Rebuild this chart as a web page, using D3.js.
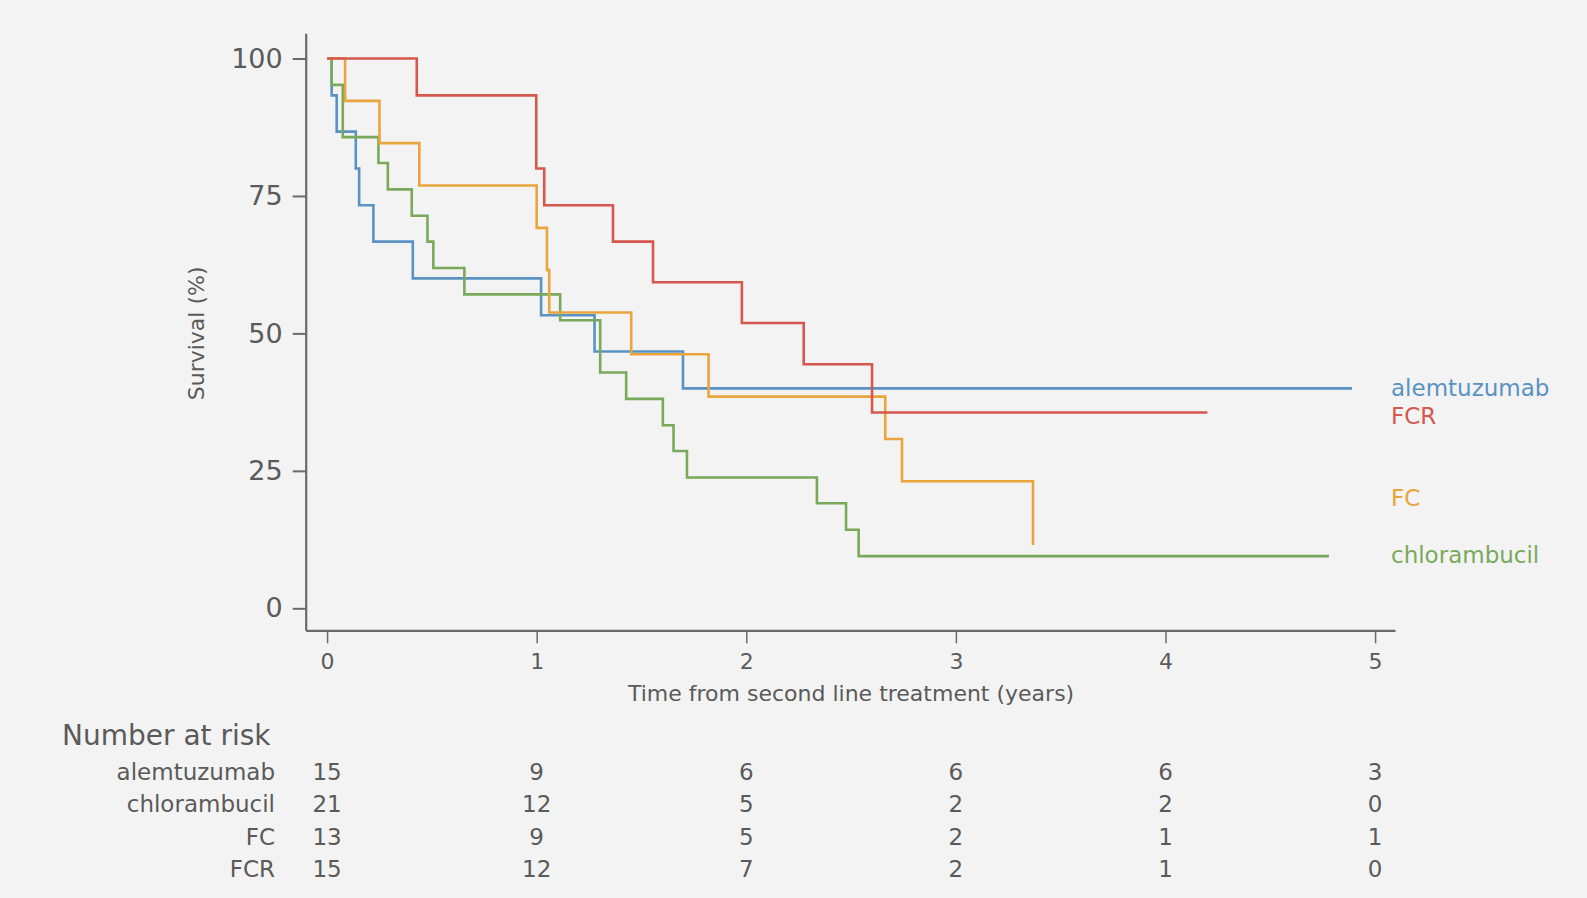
<!DOCTYPE html>
<html>
<head>
<meta charset="utf-8">
<script src="https://cdn.jsdelivr.net/npm/d3@7"></script>
<style>
  html, body { margin: 0; padding: 0; background: #f3f3f3; }
  svg { display: block; font-family: 'DejaVu Sans', sans-serif; }
</style>
</head>
<body>
<svg id="chart" width="1587" height="898"></svg>
<script>
// groups, in risk-table order
const groups = ['alemtuzumab', 'chlorambucil', 'FC', 'FCR'];
const groupColors = ['#5a92c3', '#79a95a', '#e9a43c', '#d5574d'];

// Kaplan-Meier steps (years, % surviving)
const alemTime = [0, 0.022, 0.046, 0.137, 0.153, 0.221, 0.409, 1.021, 1.276, 1.698, 4.89];
const alemSurv = [100, 93.3, 86.7, 80, 73.3, 66.7, 60, 53.3, 46.7, 40, 40];

const chlorTime = [0, 0.022, 0.075, 0.245, 0.29, 0.404, 0.479, 0.507, 0.655, 1.112, 1.303, 1.427, 1.602, 1.653, 1.717, 2.337, 2.476, 2.536, 4.78];
const chlorSurv = [100, 95.2, 85.7, 81.0, 76.2, 71.4, 66.7, 61.9, 57.1, 52.4, 42.9, 38.1, 33.3, 28.6, 23.8, 19.1, 14.3, 9.5, 9.5];

const fcTime = [0, 0.086, 0.25, 0.44, 1.0, 1.049, 1.06, 1.451, 1.82, 2.663, 2.743, 3.368];
const fcSurv = [100, 92.3, 84.6, 76.9, 69.2, 61.5, 53.8, 46.2, 38.5, 30.8, 23.1, 11.5];

const fcrTime = [0, 0.428, 0.998, 1.036, 1.364, 1.555, 1.979, 2.274, 2.60, 4.2];
const fcrSurv = [100, 93.3, 80, 73.3, 66.7, 59.3, 51.9, 44.4, 35.6, 35.6];

// where each end label sits (in % units)
const labelAt = [40, 9.7, 20, 35];

// number at risk table
const riskYears = [0, 1, 2, 3, 4, 5];
const riskAlem = [15, 9, 6, 6, 6, 3];
const riskChlor = [21, 12, 5, 2, 2, 0];
const riskFC = [13, 9, 5, 2, 1, 1];
const riskFCR = [15, 12, 7, 2, 1, 0];

const yTicks = [0, 25, 50, 75, 100];
const xTicks = [0, 1, 2, 3, 4, 5];

const series = [
  { times: alemTime, surv: alemSurv },
  { times: chlorTime, surv: chlorSurv },
  { times: fcTime, surv: fcSurv },
  { times: fcrTime, surv: fcrSurv },
];
const risk = [riskAlem, riskChlor, riskFC, riskFCR];

const textColor = '#5a5a5a';
const axisColor = '#6a6a6a';

const svg = d3.select('#chart');

const x = d3.scaleLinear().domain([-0.102, 5.095]).range([305.7, 1395]);
const y = d3.scaleLinear().domain([-4, 104.6]).range([630.3, 33.2]);

// y axis
const yAxis = svg.append('g')
  .attr('transform', `translate(${x.range()[0]},0)`)
  .call(d3.axisLeft(y).tickValues(yTicks).tickSize(13).tickSizeOuter(0).tickPadding(10));
yAxis.select('.domain').attr('stroke', axisColor).attr('stroke-width', 2.2);
yAxis.selectAll('.tick line').attr('stroke', axisColor).attr('stroke-width', 2);
yAxis.selectAll('.tick text')
  .attr('fill', textColor)
  .attr('font-size', 27)
  .attr('font-family', "'DejaVu Sans', sans-serif");

// x axis
const xAxis = svg.append('g')
  .attr('transform', `translate(0,${y.range()[0]})`)
  .call(d3.axisBottom(x).tickValues(xTicks).tickFormat(d3.format('d')).tickSize(13).tickSizeOuter(0).tickPadding(10));
xAxis.select('.domain').attr('stroke', axisColor).attr('stroke-width', 2.2);
xAxis.selectAll('.tick line').attr('stroke', axisColor).attr('stroke-width', 1.5);
xAxis.selectAll('.tick text')
  .attr('fill', textColor)
  .attr('font-size', 22)
  .attr('font-family', "'DejaVu Sans', sans-serif");

// axis titles
svg.append('text')
  .attr('transform', `translate(204,${y(50)}) rotate(-90)`)
  .attr('text-anchor', 'middle')
  .attr('fill', textColor)
  .attr('font-size', 22)
  .text('Survival (%)');

svg.append('text')
  .attr('x', x(2.5))
  .attr('y', 701)
  .attr('text-anchor', 'middle')
  .attr('fill', textColor)
  .attr('font-size', 22)
  .text('Time from second line treatment (years)');

// survival curves
const line = d3.line()
  .x((d) => x(d[0]))
  .y((d) => y(d[1]))
  .curve(d3.curveStepAfter);

svg.append('g')
  .selectAll('path')
  .data(series)
  .enter()
  .append('path')
  .attr('d', (s) => line(s.times.map((t, i) => [t, s.surv[i]])))
  .attr('fill', 'none')
  .attr('stroke', (s, i) => groupColors[i])
  .attr('stroke-width', 2.6);

// end labels
svg.append('g')
  .selectAll('text')
  .data(groups)
  .enter()
  .append('text')
  .attr('x', 1391)
  .attr('y', (g, i) => y(labelAt[i]))
  .attr('dy', '0.35em')
  .attr('fill', (g, i) => groupColors[i])
  .attr('font-size', 23)
  .text((g) => g);

// number at risk
svg.append('text')
  .attr('x', 62)
  .attr('y', 745)
  .attr('fill', textColor)
  .attr('font-size', 28)
  .text('Number at risk');

const rowY = d3.scalePoint().domain(groups).range([780, 877]);

const rows = svg.append('g')
  .selectAll('g')
  .data(groups)
  .enter()
  .append('g')
  .attr('transform', (g) => `translate(0,${rowY(g)})`);

rows.append('text')
  .attr('x', 275)
  .attr('text-anchor', 'end')
  .attr('fill', textColor)
  .attr('font-size', 23)
  .text((g) => g);

rows.selectAll('text.n')
  .data((g, i) => risk[i].map((n, j) => ({ n, t: riskYears[j] })))
  .enter()
  .append('text')
  .attr('class', 'n')
  .attr('x', (d) => x(d.t))
  .attr('text-anchor', 'middle')
  .attr('fill', textColor)
  .attr('font-size', 23)
  .text((d) => d.n);
</script>
</body>
</html>
